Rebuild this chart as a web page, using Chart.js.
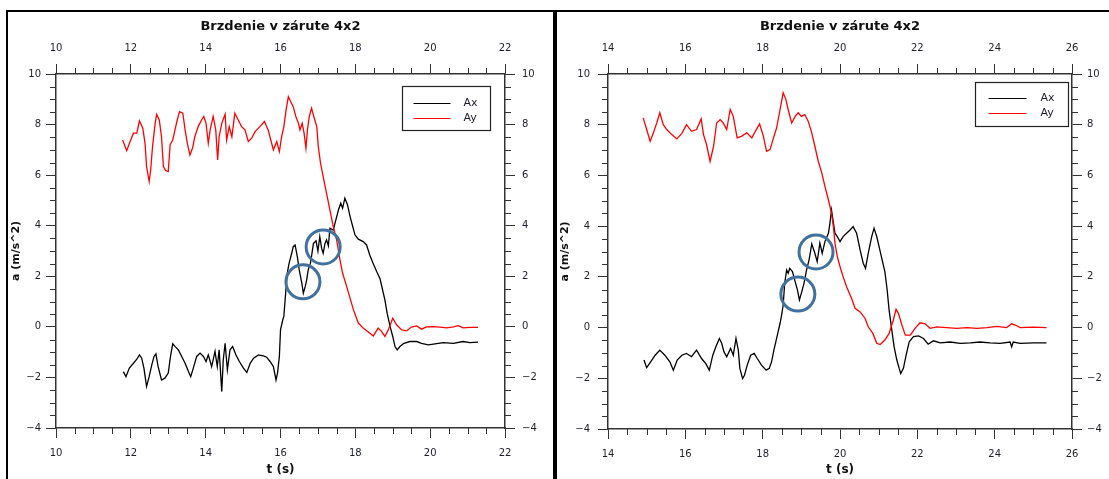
<!DOCTYPE html>
<html>
<head>
<meta charset="utf-8">
<title>Brzdenie v zárute 4x2</title>
<script src="https://cdn.jsdelivr.net/npm/chart.js@4.4.0/dist/chart.umd.min.js"></script>
<style>
  html, body { margin: 0; padding: 0; background: #fff; }
  body { width: 1109px; height: 479px; position: relative; overflow: hidden; }
  .panel { position: absolute; top: 10px; height: 480px; box-sizing: border-box;
           border-top: 2px solid #000; border-left: 2px solid #000; }
  #panelLeft { left: 6px; width: 549px; border-right: 2px solid #000; }
  #panelRight { left: 555px; width: 554px; }
  canvas { display: block; }
</style>
</head>
<body>
<div class="panel" id="panelLeft"><canvas id="chartLeft" width="545" height="467"></canvas></div>
<div class="panel" id="panelRight"><canvas id="chartRight" width="552" height="467"></canvas></div>
<script>
// ---- left run: t from ~11.8 s to ~21.3 s ----
const leftAyT = [11.78, 11.89, 11.98, 12.07, 12.16, 12.23, 12.32, 12.38, 12.42, 12.49, 12.53, 12.58, 12.65, 12.69, 12.76, 12.82, 12.87, 12.93, 13.00, 13.05,
  13.12, 13.18, 13.24, 13.30, 13.39, 13.45, 13.51, 13.58, 13.65, 13.71, 13.80, 13.89, 13.95, 14.01, 14.07, 14.12, 14.20, 14.27, 14.32, 14.36,
  14.43, 14.52, 14.56, 14.63, 14.70, 14.78, 14.87, 14.96, 15.05, 15.14, 15.23, 15.32, 15.45, 15.57, 15.67, 15.74, 15.81, 15.90, 15.97, 16.03,
  16.09, 16.15, 16.21, 16.27, 16.34, 16.41, 16.48, 16.52, 16.58, 16.63, 16.68, 16.72, 16.77, 16.83, 16.89, 16.97, 17.01, 17.07, 17.14, 17.23,
  17.32, 17.41, 17.50, 17.59, 17.66, 17.77, 17.95, 18.08, 18.21, 18.39, 18.48, 18.61, 18.70, 18.79, 18.88, 19.00, 19.10, 19.24, 19.37, 19.50,
  19.64, 19.77, 19.90, 20.08, 20.26, 20.44, 20.62, 20.75, 20.88, 21.06, 21.28];
const leftAyA = [7.39, 6.97, 7.33, 7.66, 7.66, 8.15, 7.86, 7.26, 6.34, 5.75, 6.20, 7.13, 8.05, 8.40, 8.18, 7.52, 6.34, 6.18, 6.14, 7.20,
  7.39, 7.79, 8.18, 8.51, 8.45, 7.79, 7.26, 6.80, 7.07, 7.52, 7.92, 8.18, 8.32, 8.05, 7.26, 7.79, 8.32, 7.79, 6.60, 7.52,
  8.05, 8.41, 7.39, 7.92, 7.52, 8.45, 8.18, 7.92, 7.79, 7.33, 7.46, 7.72, 7.92, 8.12, 7.79, 7.39, 7.00, 7.33, 6.93, 7.52,
  7.92, 8.58, 9.10, 8.91, 8.71, 8.32, 8.05, 7.79, 8.05, 7.66, 7.07, 7.79, 8.32, 8.65, 8.32, 7.92, 7.13, 6.47, 5.94, 5.29,
  4.63, 3.97, 3.44, 2.65, 2.12, 1.59, 0.67, 0.15, -0.05, -0.25, -0.36, -0.05, -0.18, -0.38, -0.12, 0.34, 0.08, -0.12, -0.16, -0.01,
  0.04, -0.09, 0.00, 0.01, -0.01, -0.04, 0.00, 0.05, -0.04, -0.02, -0.02];

const leftAxT = [11.80, 11.87, 11.96, 12.07, 12.16, 12.23, 12.29, 12.35, 12.42, 12.49, 12.56, 12.62, 12.67, 12.73, 12.82, 12.91, 13.00, 13.06, 13.12, 13.18,
  13.27, 13.36, 13.45, 13.54, 13.60, 13.67, 13.76, 13.85, 13.94, 14.01, 14.07, 14.16, 14.25, 14.31, 14.36, 14.43, 14.47, 14.52, 14.58, 14.65,
  14.72, 14.81, 14.90, 15.01, 15.10, 15.19, 15.28, 15.41, 15.54, 15.63, 15.72, 15.81, 15.88, 15.92, 15.97, 16.00, 16.06, 16.09, 16.13, 16.18,
  16.23, 16.30, 16.34, 16.39, 16.45, 16.50, 16.57, 16.61, 16.66, 16.70, 16.74, 16.80, 16.84, 16.88, 16.95, 17.00, 17.05, 17.10, 17.14, 17.19,
  17.23, 17.28, 17.32, 17.41, 17.48, 17.55, 17.61, 17.66, 17.72, 17.79, 17.86, 17.93, 17.99, 18.08, 18.21, 18.30, 18.39, 18.48, 18.57, 18.66,
  18.79, 18.85, 18.93, 19.00, 19.06, 19.12, 19.19, 19.30, 19.46, 19.64, 19.77, 19.95, 20.13, 20.35, 20.62, 20.88, 21.06, 21.28];
const leftAxA = [-1.77, -1.97, -1.63, -1.44, -1.28, -1.11, -1.24, -1.63, -2.36, -1.97, -1.50, -1.17, -1.07, -1.57, -2.10, -2.03, -1.83, -1.17, -0.67, -0.77,
  -0.91, -1.17, -1.44, -1.77, -1.97, -1.63, -1.17, -1.04, -1.17, -1.37, -1.11, -1.57, -0.97, -1.57, -0.91, -2.56, -1.31, -0.65, -1.70, -0.91,
  -0.78, -1.11, -1.37, -1.63, -1.80, -1.44, -1.24, -1.11, -1.15, -1.20, -1.37, -1.57, -2.10, -1.83, -1.17, -0.12, 0.28, 0.41, 1.20, 2.12,
  2.52, 2.91, 3.17, 3.24, 2.78, 2.25, 1.73, 1.33, 1.59, 1.86, 2.25, 2.52, 2.90, 3.30, 3.40, 3.00, 3.57, 3.10, 2.91, 3.30,
  3.44, 3.20, 3.90, 3.83, 4.23, 4.63, 4.89, 4.69, 5.09, 4.83, 4.36, 3.97, 3.64, 3.47, 3.37, 3.24, 2.82, 2.50, 2.19, 1.90,
  1.07, 0.54, 0.01, -0.38, -0.78, -0.91, -0.78, -0.65, -0.58, -0.58, -0.65, -0.71, -0.67, -0.62, -0.65, -0.58, -0.62, -0.60];

const leftMarkT = [16.60, 17.14];
const leftMarkA = [1.78, 3.16];

// ---- right run: t from ~14.9 s to ~25.3 s ----
const rightAyT = [14.91, 15.00, 15.09, 15.17, 15.26, 15.34, 15.43, 15.52, 15.65, 15.78, 15.91, 16.03, 16.16, 16.29, 16.41, 16.47, 16.55, 16.64, 16.73, 16.81,
  16.90, 16.98, 17.07, 17.16, 17.24, 17.34, 17.45, 17.59, 17.72, 17.81, 17.92, 18.02, 18.10, 18.19, 18.28, 18.36, 18.45, 18.53, 18.60, 18.67,
  18.75, 18.84, 18.92, 19.00, 19.09, 19.18, 19.27, 19.35, 19.44, 19.53, 19.61, 19.70, 19.78, 19.83, 19.87, 19.93, 20.02, 20.08, 20.17, 20.30,
  20.39, 20.52, 20.65, 20.73, 20.85, 20.95, 21.04, 21.16, 21.27, 21.38, 21.45, 21.51, 21.60, 21.69, 21.82, 21.94, 22.07, 22.20, 22.33, 22.50,
  22.76, 23.02, 23.28, 23.54, 23.80, 24.05, 24.31, 24.44, 24.53, 24.66, 25.00, 25.34];
const rightAyA = [8.27, 7.81, 7.35, 7.66, 8.07, 8.47, 8.00, 7.81, 7.61, 7.44, 7.66, 8.00, 7.74, 7.81, 8.23, 7.61, 7.21, 6.55, 7.15, 8.07,
  8.20, 8.07, 7.81, 8.60, 8.33, 7.48, 7.54, 7.68, 7.48, 7.74, 8.03, 7.54, 6.95, 7.02, 7.48, 7.87, 8.60, 9.26, 9.00, 8.53,
  8.07, 8.33, 8.47, 8.33, 8.40, 8.13, 7.68, 7.15, 6.55, 6.09, 5.57, 5.04, 4.51, 3.98, 3.33, 2.80, 2.30, 2.01, 1.61, 1.15,
  0.76, 0.62, 0.36, 0.03, -0.23, -0.62, -0.67, -0.49, -0.23, 0.30, 0.72, 0.56, 0.10, -0.30, -0.30, -0.03, 0.19, 0.15, -0.03, 0.03,
  0.00, -0.03, 0.00, -0.03, 0.00, 0.05, 0.00, 0.15, 0.10, 0.00, 0.02, 0.00];

const rightAxT = [14.93, 15.00, 15.09, 15.22, 15.34, 15.47, 15.60, 15.69, 15.79, 15.91, 16.03, 16.16, 16.29, 16.42, 16.53, 16.62, 16.71, 16.79, 16.88, 16.94,
  17.00, 17.07, 17.17, 17.24, 17.31, 17.37, 17.41, 17.48, 17.53, 17.60, 17.69, 17.78, 17.86, 17.97, 18.09, 18.17, 18.23, 18.29, 18.34, 18.40,
  18.45, 18.49, 18.53, 18.57, 18.62, 18.66, 18.70, 18.77, 18.84, 18.90, 18.95, 19.00, 19.07, 19.14, 19.20, 19.27, 19.35, 19.41, 19.48, 19.54,
  19.61, 19.70, 19.74, 19.78, 19.83, 19.87, 19.93, 20.00, 20.08, 20.17, 20.26, 20.34, 20.43, 20.52, 20.60, 20.66, 20.73, 20.82, 20.88, 20.95,
  21.03, 21.10, 21.16, 21.22, 21.27, 21.34, 21.40, 21.47, 21.53, 21.57, 21.64, 21.71, 21.79, 21.90, 22.03, 22.16, 22.28, 22.42, 22.59, 22.85,
  23.11, 23.37, 23.62, 23.88, 24.14, 24.40, 24.44, 24.48, 24.66, 25.00, 25.34];
const rightAxA = [-1.28, -1.58, -1.38, -1.09, -0.89, -1.09, -1.35, -1.68, -1.28, -1.09, -1.02, -1.15, -0.89, -1.22, -1.42, -1.68, -1.09, -0.76, -0.43, -0.62,
  -0.96, -1.15, -0.82, -1.09, -0.43, -0.89, -1.61, -2.01, -1.88, -1.48, -1.09, -1.02, -1.22, -1.48, -1.68, -1.61, -1.35, -0.89, -0.56, -0.16,
  0.17, 0.49, 0.89, 1.75, 2.27, 2.14, 2.34, 2.21, 1.81, 1.48, 1.09, 1.35, 1.75, 2.30, 2.67, 3.30, 2.93, 2.60, 3.33, 2.93,
  3.39, 3.72, 4.12, 4.64, 4.12, 3.72, 3.59, 3.39, 3.59, 3.72, 3.85, 3.98, 3.72, 3.06, 2.54, 2.34, 2.93, 3.59, 3.92, 3.59,
  3.06, 2.60, 2.21, 1.48, 0.69, -0.10, -0.76, -1.28, -1.61, -1.81, -1.61, -1.09, -0.56, -0.36, -0.33, -0.43, -0.65, -0.52, -0.60, -0.57,
  -0.62, -0.60, -0.57, -0.60, -0.62, -0.57, -0.76, -0.57, -0.62, -0.60, -0.60];

const rightMarkT = [18.91, 19.38];
const rightMarkA = [1.32, 2.98];

const chartTitle = 'Brzdenie v zárute 4x2';
const xTitle = 't (s)';
const yTitle = 'a (m/s^2)';
const legendNames = ['Ax', 'Ay'];

const markRadius = 17;
const markColor = '#41719c';
const axisColor = '#333333';
const textColor = '#1e1e28';
const FONT = 'DejaVu Sans';

function toPoints(ts, vs) {
  return ts.map((t, i) => ({ x: t, y: vs[i] }));
}

function fmtTick(v) {
  return v < 0 ? '\u2212' + Math.abs(v) : String(v);
}

// minor ticks every 0.5 on all four axes (majors are drawn by Chart.js)
const minorTicks = {
  id: 'minorTicks',
  afterDraw(chart) {
    const ctx = chart.ctx;
    ctx.save();
    ctx.strokeStyle = axisColor;
    ctx.lineWidth = 1;
    Object.values(chart.scales).forEach(s => {
      for (let v = s.min; v <= s.max + 1e-9; v += 0.5) {
        if (Math.abs(v / 2 - Math.round(v / 2)) < 1e-6) continue;
        const p = Math.round(s.getPixelForValue(v)) + 0.5;
        ctx.beginPath();
        if (s.options.position === 'left') { ctx.moveTo(s.right, p); ctx.lineTo(s.right - 6, p); }
        else if (s.options.position === 'right') { ctx.moveTo(s.left, p); ctx.lineTo(s.left + 6, p); }
        else if (s.options.position === 'top') { ctx.moveTo(p, s.bottom); ctx.lineTo(p, s.bottom - 6); }
        else { ctx.moveTo(p, s.top); ctx.lineTo(p, s.top + 6); }
        ctx.stroke();
      }
    });
    ctx.restore();
  }
};

// framed legend in the upper right corner of the plot
const boxLegend = {
  id: 'boxLegend',
  afterDatasetsDraw(chart, args, o) {
    const { ctx, chartArea: a } = chart;
    const x0 = Math.round(a.right - o.right - o.width) + 0.5;
    const y0 = Math.round(a.top + o.top) + 0.5;
    ctx.save();
    ctx.fillStyle = '#fff';
    ctx.fillRect(x0, y0, o.width, o.height);
    ctx.strokeStyle = '#222';
    ctx.lineWidth = 1.2;
    ctx.strokeRect(x0, y0, o.width, o.height);
    ctx.font = '11px "' + FONT + '"';
    ctx.textBaseline = 'middle';
    legendNames.forEach((name, i) => {
      const ds = chart.data.datasets.find(d => d.label === name);
      const y = Math.round(y0 + o.rowTop + i * o.rowGap) + 0.5;
      ctx.strokeStyle = ds.borderColor;
      ctx.lineWidth = 1;
      ctx.beginPath();
      ctx.moveTo(x0 + o.lineStart, y);
      ctx.lineTo(x0 + o.lineStart + o.lineLen, y);
      ctx.stroke();
      ctx.fillStyle = textColor;
      ctx.fillText(name, x0 + o.textX, y);
    });
    ctx.restore();
  }
};

function xAxis(position, p) {
  const top = position === 'top';
  return {
    type: 'linear',
    position: position,
    min: p.xMin,
    max: p.xMax,
    ticks: {
      stepSize: 2, autoSkip: false, maxRotation: 0,
      padding: top ? p.topPad : p.bottomPad,
      color: textColor, font: { family: FONT, size: 10 },
      callback: fmtTick
    },
    grid: { drawOnChartArea: false, tickLength: 10, color: axisColor, lineWidth: 1 },
    border: { display: true, color: axisColor, width: 1.5 },
    title: top
      ? { display: true, text: chartTitle, color: '#111', font: { family: FONT, size: 13, weight: 'bold' }, padding: { top: 7, bottom: 0 } }
      : { display: true, text: xTitle, color: '#111', font: { family: FONT, size: 12, weight: 'bold' }, padding: { top: 0, bottom: 2 } },
    afterFit(s) { s.height = top ? p.topH : p.bottomH; }
  };
}

function yAxis(position, p) {
  const left = position === 'left';
  return {
    type: 'linear',
    position: position,
    min: -4,
    max: 10,
    ticks: {
      stepSize: 2, autoSkip: false,
      padding: left ? p.leftPad : p.rightPad,
      color: textColor, font: { family: FONT, size: 10 },
      callback: fmtTick
    },
    grid: { drawOnChartArea: false, tickLength: 10, color: axisColor, lineWidth: 1 },
    border: { display: true, color: axisColor, width: 1.5 },
    title: left
      ? { display: true, text: yTitle, color: '#111', font: { family: FONT, size: 11, weight: 'bold' }, padding: { top: 2, bottom: 0 } }
      : { display: false },
    afterFit(s) { s.width = left ? p.leftW : p.rightW; }
  };
}

function buildChart(canvasId, p) {
  const marks = p.markT.map((t, i) => ({ x: t, y: p.markA[i], r: markRadius }));
  return new Chart(document.getElementById(canvasId), {
    type: 'line',
    data: {
      datasets: [
        { type: 'bubble', label: 'marks', data: marks, borderColor: markColor, borderWidth: 3,
          backgroundColor: 'rgba(0,0,0,0)', hoverRadius: 0 },
        { label: 'Ay', data: toPoints(p.ayT, p.ayA), borderColor: '#ff0000', borderWidth: 1.3,
          pointRadius: 0, tension: 0, fill: false },
        { label: 'Ax', data: toPoints(p.axT, p.axA), borderColor: '#000000', borderWidth: 1.3,
          pointRadius: 0, tension: 0, fill: false }
      ]
    },
    options: {
      responsive: false,
      devicePixelRatio: 1,
      animation: false,
      events: [],
      layout: { padding: 0 },
      plugins: {
        legend: { display: false },
        tooltip: { enabled: false },
        boxLegend: p.legend
      },
      scales: {
        x: xAxis('bottom', p),
        x2: xAxis('top', p),
        y: yAxis('left', p),
        y2: yAxis('right', p)
      }
    },
    plugins: [minorTicks, boxLegend]
  });
}

buildChart('chartLeft', {
  xMin: 10, xMax: 22,
  ayT: leftAyT, ayA: leftAyA, axT: leftAxT, axA: leftAxA,
  markT: leftMarkT, markA: leftMarkA,
  topH: 62, bottomH: 51, leftW: 48, rightW: 48,
  topPad: 10, bottomPad: 9, leftPad: 5, rightPad: 7,
  legend: { right: 15, top: 12, width: 88, height: 44, rowTop: 16, rowGap: 15, lineStart: 11, lineLen: 37, textX: 61 }
});

buildChart('chartRight', {
  xMin: 14, xMax: 26,
  ayT: rightAyT, ayA: rightAyA, axT: rightAxT, axA: rightAxA,
  markT: rightMarkT, markA: rightMarkA,
  topH: 62, bottomH: 50, leftW: 51, rightW: 37,
  topPad: 10, bottomPad: 9, leftPad: 8, rightPad: 5,
  legend: { right: 4, top: 8, width: 93, height: 44, rowTop: 15, rowGap: 15, lineStart: 13, lineLen: 38, textX: 65 }
});
</script>
</body>
</html>
